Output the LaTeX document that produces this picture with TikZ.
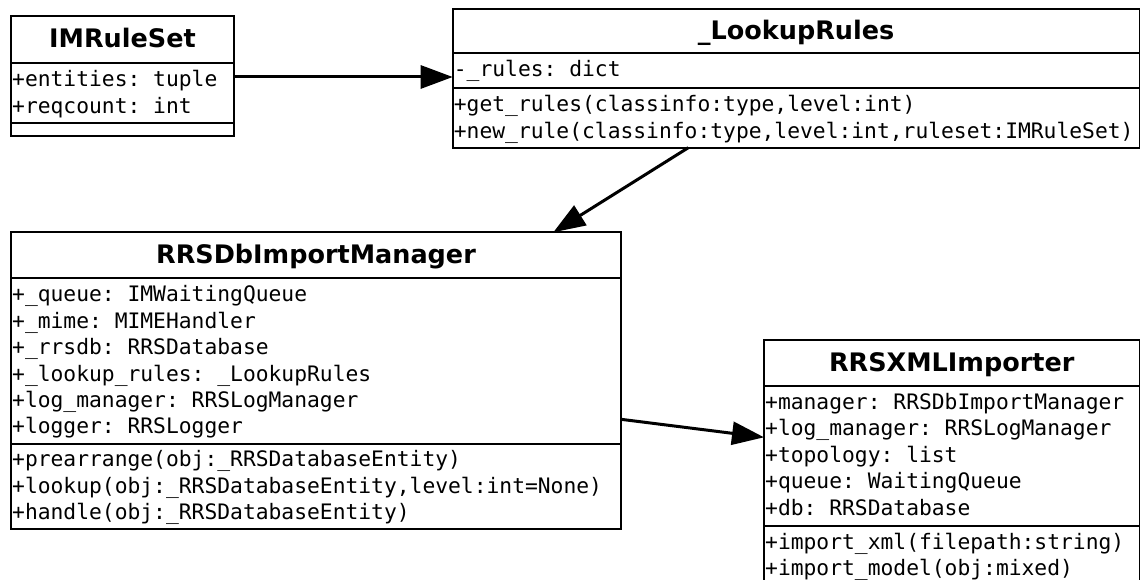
\documentclass[tikz,border=0pt]{standalone}
\usepackage{fontspec}
\setmainfont{DejaVu Sans}
\setmonofont{DejaVu Sans Mono}
\usetikzlibrary{arrows.meta}

\tikzset{
  umlbox/.style={draw, line width=1.8pt, anchor=north west, inner sep=0pt, outer sep=0pt},
  umltitle/.style={font=\fontsize{25.5}{30}\selectfont\bfseries, anchor=base, inner sep=0pt},
  umlitem/.style={font=\fontsize{21.3}{26}\selectfont\ttfamily, anchor=base west, inner sep=0pt},
  umlsep/.style={line width=1.8pt},
  assoc/.style={line width=3pt, -{Triangle[length=32pt,width=23pt]}},
}

\begin{document}
\begin{tikzpicture}[x=1pt, y=-1pt]
\useasboundingbox (0,0) rectangle (1141,580);
\clip (0,0) rectangle (1141,580);

% ---------- IMRuleSet ----------
\node[umlbox, minimum width=223pt, minimum height=120.3pt] (ims) at (11,15.7) {};
\draw[umlsep] (11,63.3) -- (234,63.3);
\draw[umlsep] (11,123.3) -- (234,123.3);
\node[umltitle] (ims-t) at (122.5,47.5) {IMRuleSet};
\foreach \txt [count=\i] in {+entities: tuple, +reqcount: int}
  \node[umlitem] (ims-a\i) at (12,{63.3+23.5+(\i-1)*26.4}) {\txt};

% ---------- _LookupRules ----------
\node[umlbox, minimum width=686.8pt, minimum height=138.4pt] (lr) at (452.7,9.3) {};
\draw[umlsep] (452.7,53.3) -- (1139.5,53.3);
\draw[umlsep] (452.7,88.3) -- (1139.5,88.3);
\node[umltitle] (lr-t) at (796.1,39.3) {\_LookupRules};
\node[umlitem] (lr-a1) at (453.7,{53.3+23.5}) {-\_rules: dict};
\foreach \txt [count=\i] in {+get\_rules(classinfo:type{,}level:int),
                             +new\_rule(classinfo:type{,}level:int{,}ruleset:IMRuleSet)}
  \node[umlitem] (lr-o\i) at (453.7,{88.3+23.5+(\i-1)*26.4}) {\txt};

% ---------- RRSDbImportManager ----------
\node[umlbox, minimum width=610pt, minimum height=297pt] (mgr) at (11,232.3) {};
\draw[umlsep] (11,278.3) -- (621,278.3);
\draw[umlsep] (11,443.8) -- (621,443.8);
\node[umltitle] (mgr-t) at (316,263.3) {RRSDbImportManager};
\foreach \txt [count=\i] in {+\_queue: IMWaitingQueue, +\_mime: MIMEHandler,
                             +\_rrsdb: RRSDatabase, +\_lookup\_rules: \_LookupRules,
                             +log\_manager: RRSLogManager, +logger: RRSLogger}
  \node[umlitem] (mgr-a\i) at (12,{278.3+23.5+(\i-1)*26.4}) {\txt};
\foreach \txt [count=\i] in {+prearrange(obj:\_RRSDatabaseEntity),
                             +lookup(obj:\_RRSDatabaseEntity{,}level:int=None),
                             +handle(obj:\_RRSDatabaseEntity)}
  \node[umlitem] (mgr-o\i) at (12,{443.3+23.5+(\i-1)*26.4}) {\txt};

% ---------- RRSXMLImporter ----------
\node[umlbox, minimum width=375.5pt, minimum height=250pt] (xml) at (764,340) {};
\draw[umlsep] (764,386) -- (1139.5,386);
\draw[umlsep] (764,525.6) -- (1139.5,525.6);
\node[umltitle] (xml-t) at (951.75,371) {RRSXMLImporter};
\foreach \txt [count=\i] in {+manager: RRSDbImportManager, +log\_manager: RRSLogManager,
                             +topology: list, +queue: WaitingQueue, +db: RRSDatabase}
  \node[umlitem] (xml-a\i) at (765,{386+23.5+(\i-1)*26.4}) {\txt};
\foreach \txt [count=\i] in {+import\_xml(filepath:string), +import\_model(obj:mixed)}
  \node[umlitem] (xml-o\i) at (765,{525.6+23.5+(\i-1)*26.4}) {\txt};

% ---------- associations ----------
\coordinate (c1) at ([yshift=-61.3pt]ims.north east);
\draw[assoc] (c1) -- (c1 -| lr.west);

\coordinate (c2s) at ([xshift=235.6pt]lr.south west);
\coordinate (c2e) at ([xshift=542.3pt]mgr.north west);
\draw[assoc] (c2s) -- (c2e);

\coordinate (c3s) at ([yshift=-187pt]mgr.north east);
\coordinate (c3e) at ([yshift=-97.3pt]xml.north west);
\draw[assoc] (c3s) -- (c3e);
\end{tikzpicture}
\end{document}
